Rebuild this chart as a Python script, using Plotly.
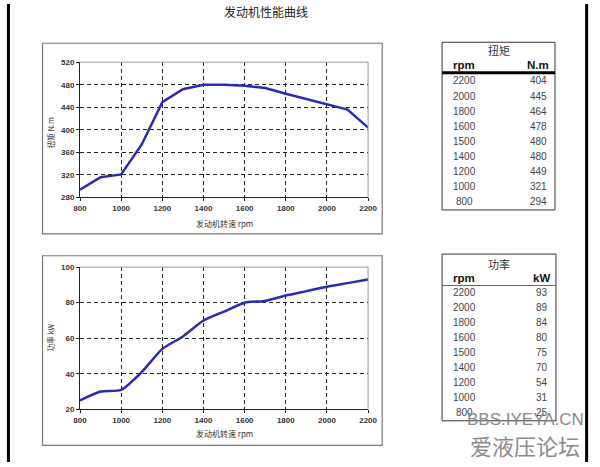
import plotly.graph_objects as go

W, H = 600, 467

# ---- data ----
rpm = [800, 900, 1000, 1100, 1200, 1300, 1400, 1500, 1600, 1700, 1800, 1900, 2000, 2100, 2200]
torque = [294, 316, 321, 374, 449, 472, 480, 480, 478, 474, 464, 455, 445, 436, 404]
power = [25, 30, 31, 41, 54, 61, 70, 75, 80, 81, 84, 86.5, 89, 91, 93]

x_ticks = [800, 1000, 1200, 1400, 1600, 1800, 2000, 2200]
torque_ticks = [280, 320, 360, 400, 440, 480, 520]
power_ticks = [20, 40, 60, 80, 100]

tbl_rpm = [2200, 2000, 1800, 1600, 1500, 1400, 1200, 1000, 800]
tbl_torque = [404, 445, 464, 478, 480, 480, 449, 321, 294]
tbl_power = [93, 89, 84, 80, 75, 70, 54, 31, 25]

title = "发动机性能曲线"
x_title = "发动机转速 rpm"
torque_title = "扭矩 N.m"
power_title = "功率 kW"
torque_tbl_title = "扭矩"
power_tbl_title = "功率"
torque_unit = "N.m"
power_unit = "kW"


def px(x):
    return x / W


def py(y):
    return 1 - y / H


CJK = "Noto Sans CJK SC"
LAT = "Liberation Sans"
LINE = "#2a2ab4"

fig = go.Figure()
fig.add_trace(go.Scatter(x=rpm, y=torque, mode="lines", line=dict(color=LINE, width=2.5),
                         xaxis="x", yaxis="y", showlegend=False))
fig.add_trace(go.Scatter(x=rpm, y=power, mode="lines",
                         line=dict(color=LINE, width=2.5, shape="spline", smoothing=0.6),
                         xaxis="x2", yaxis="y2", showlegend=False))

tickfont = dict(family=LAT, size=8, color="#333", weight="bold")
axcommon = dict(showgrid=True, gridcolor="#222", griddash="4px,3px", gridwidth=1,
                showline=True, linecolor="#222", linewidth=1, ticks="outside", ticklen=3,
                tickcolor="#222", zeroline=False, tickfont=tickfont, fixedrange=True)

# plot areas (pixel boxes)
top = dict(x0=75, x1=371, y0=59.3, y1=197.3)
bot = dict(x0=75, x1=371, y0=268.3, y1=413.3)

fig.update_layout(
    width=W, height=H, margin=dict(l=0, r=0, t=0, b=0),
    paper_bgcolor="white", plot_bgcolor="white",
    xaxis=dict(domain=[px(top["x0"]), px(top["x1"])], range=[800, 2200], tickvals=x_ticks,
               anchor="y", **axcommon),
    yaxis=dict(domain=[py(top["y1"]), py(top["y0"])], range=[280, 520], tickvals=torque_ticks,
               anchor="x", **axcommon),
    xaxis2=dict(domain=[px(bot["x0"]), px(bot["x1"])], range=[800, 2200], tickvals=x_ticks,
                anchor="y2", **axcommon),
    yaxis2=dict(domain=[py(bot["y1"]), py(bot["y0"])], range=[20, 100], tickvals=power_ticks,
                anchor="x2", **axcommon),
)

shapes = []
ann = []

# outer frame lines
shapes.append(dict(type="line", xref="paper", yref="paper", x0=px(1.5), x1=px(1.5), y0=0, y1=1,
                   line=dict(color="black", width=3)))
shapes.append(dict(type="line", xref="paper", yref="paper", x0=px(595.5), x1=px(595.5), y0=0, y1=1,
                   line=dict(color="black", width=3)))

# chart boxes
for (y0, y1) in [(40, 234.3), (256.7, 450)]:
    shapes.append(dict(type="rect", xref="paper", yref="paper", x0=px(36.5), x1=px(385.5),
                       y0=py(y1), y1=py(y0), line=dict(color="#777", width=1.2)))

# plot-area top/right border
for b in (top, bot):
    shapes.append(dict(type="line", xref="paper", yref="paper", x0=px(b["x0"]), x1=px(b["x1"]),
                       y0=py(b["y0"]), y1=py(b["y0"]), line=dict(color="#999", width=1), layer="above"))
    shapes.append(dict(type="line", xref="paper", yref="paper", x0=px(b["x1"]), x1=px(b["x1"]),
                       y0=py(b["y0"]), y1=py(b["y1"]), line=dict(color="#999", width=1), layer="above"))

# title
ann.append(dict(text=title, x=px(266), y=py(8), xref="paper", yref="paper", showarrow=False,
                font=dict(family=CJK, size=12, color="#222"), xanchor="center", yanchor="middle"))

# axis titles
for yy in (224, 438):
    ann.append(dict(text=x_title, x=px(223), y=py(yy), xref="paper", yref="paper", showarrow=False,
                    font=dict(family=CJK, size=8, color="#333"), xanchor="center", yanchor="middle"))
ann.append(dict(text=torque_title, x=px(45), y=py(131), xref="paper", yref="paper", showarrow=False,
                textangle=-90, font=dict(family=CJK, size=7.5, color="#333"),
                xanchor="center", yanchor="middle"))
ann.append(dict(text=power_title, x=px(45), y=py(340), xref="paper", yref="paper", showarrow=False,
                textangle=-90, font=dict(family=CJK, size=7.5, color="#333"),
                xanchor="center", yanchor="middle"))

# tables
tblfont = dict(family=LAT, size=10, color="#444")
hdrfont = dict(family=LAT, size=11.5, color="#111", weight="bold")


def table(x0, x1, ytop, ybot, y_title, y_hdr, y_line, line_w, row0, step, name, unit, vals):
    shapes.append(dict(type="rect", xref="paper", yref="paper", x0=px(x0), x1=px(x1),
                       y0=py(ybot), y1=py(ytop), line=dict(color="#333", width=1)))
    shapes.append(dict(type="line", xref="paper", yref="paper", x0=px(x0), x1=px(x1),
                       y0=py(y_line), y1=py(y_line), line=dict(color="black" if line_w > 1 else "#666",
                                                               width=line_w)))
    ann.append(dict(text=name, x=px((x0 + x1) / 2), y=py(y_title), xref="paper", yref="paper",
                    showarrow=False, font=dict(family=CJK, size=11, color="#333"),
                    xanchor="center", yanchor="middle"))
    ann.append(dict(text="rpm", x=px(470), y=py(y_hdr), xref="paper", yref="paper", showarrow=False,
                    font=hdrfont, xanchor="center", yanchor="middle"))
    ann.append(dict(text=unit, x=px(x1 - 4), y=py(y_hdr), xref="paper", yref="paper", showarrow=False,
                    font=hdrfont, xanchor="right", yanchor="middle"))
    for i, (r, v) in enumerate(zip(tbl_rpm, vals)):
        yy = row0 + i * step
        ann.append(dict(text=str(r), x=px(470), y=py(yy), xref="paper", yref="paper", showarrow=False,
                        font=tblfont, xanchor="center", yanchor="middle"))
        ann.append(dict(text=str(v), x=px(x1 - 6), y=py(yy), xref="paper", yref="paper",
                        showarrow=False, font=tblfont, xanchor="right", yanchor="middle"))


table(447, 563, 39, 210, 46.5, 62, 70, 3, 78.5, 15.4, torque_tbl_title, torque_unit, tbl_torque)
table(447, 564, 255, 425, 265, 279.5, 287, 1, 294.5, 15.2, power_tbl_title, power_unit, tbl_power)

# watermark
ann.append(dict(text="BBS.IYEYA.CN", x=px(533), y=py(424), xref="paper", yref="paper", showarrow=False,
                font=dict(family=LAT, size=17, color="#8a8a8a"), xanchor="center", yanchor="middle"))
ann.append(dict(text="爱液压论坛", x=px(532), y=py(450), xref="paper", yref="paper", showarrow=False,
                font=dict(family=CJK, size=22, color="#8a8a8a"), xanchor="center", yanchor="middle"))

fig.update_layout(shapes=shapes, annotations=ann)
fig.write_html("out.html")
